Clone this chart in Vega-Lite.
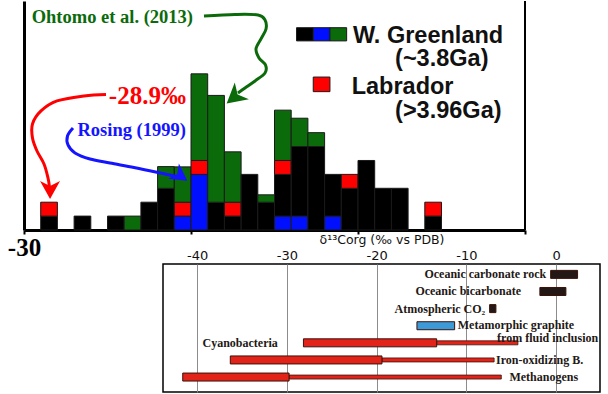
{
  "$schema": "https://vega.github.io/schema/vega-lite/v6.json",
  "padding": {"left": 7, "top": 0, "right": 0, "bottom": 0},
  "bounds": "flush",
  "spacing": 34,
  "config": {"view": {"stroke": null}, "background": "white"},
  "resolve": {"scale": {"color": "independent"}},
  "datasets": {
    "one": [{}],
    "hist": [
      {"lo": -29.5, "hi": -29.0, "grp": "W. Greenland", "n": 1},
      {"lo": -29.5, "hi": -29.0, "grp": "Labrador", "n": 1},
      {"lo": -28.5, "hi": -28.0, "grp": "W. Greenland", "n": 1},
      {"lo": -27.5, "hi": -27.0, "grp": "W. Greenland", "n": 1},
      {"lo": -27.0, "hi": -26.5, "grp": "Ohtomo et al. (2013)", "n": 1},
      {"lo": -26.5, "hi": -26.0, "grp": "W. Greenland", "n": 2},
      {"lo": -26.0, "hi": -25.5, "grp": "W. Greenland", "n": 3},
      {"lo": -26.0, "hi": -25.5, "grp": "Ohtomo et al. (2013)", "n": 1.56},
      {"lo": -25.5, "hi": -25.0, "grp": "Rosing (1999)", "n": 1},
      {"lo": -25.5, "hi": -25.0, "grp": "Labrador", "n": 1},
      {"lo": -25.5, "hi": -25.0, "grp": "Ohtomo et al. (2013)", "n": 2.54},
      {"lo": -25.0, "hi": -24.5, "grp": "Rosing (1999)", "n": 4},
      {"lo": -25.0, "hi": -24.5, "grp": "Labrador", "n": 1},
      {"lo": -25.0, "hi": -24.5, "grp": "Ohtomo et al. (2013)", "n": 6.23},
      {"lo": -24.5, "hi": -24.0, "grp": "W. Greenland", "n": 2},
      {"lo": -24.5, "hi": -24.0, "grp": "Ohtomo et al. (2013)", "n": 7.68},
      {"lo": -24.0, "hi": -23.5, "grp": "W. Greenland", "n": 1},
      {"lo": -24.0, "hi": -23.5, "grp": "Labrador", "n": 1},
      {"lo": -24.0, "hi": -23.5, "grp": "Ohtomo et al. (2013)", "n": 3.62},
      {"lo": -23.5, "hi": -23.0, "grp": "W. Greenland", "n": 4},
      {"lo": -23.0, "hi": -22.5, "grp": "W. Greenland", "n": 2},
      {"lo": -23.0, "hi": -22.5, "grp": "Ohtomo et al. (2013)", "n": 0.53},
      {"lo": -22.5, "hi": -22.0, "grp": "Rosing (1999)", "n": 1},
      {"lo": -22.5, "hi": -22.0, "grp": "W. Greenland", "n": 3},
      {"lo": -22.5, "hi": -22.0, "grp": "Labrador", "n": 1},
      {"lo": -22.5, "hi": -22.0, "grp": "Ohtomo et al. (2013)", "n": 3.62},
      {"lo": -22.0, "hi": -21.5, "grp": "Rosing (1999)", "n": 1},
      {"lo": -22.0, "hi": -21.5, "grp": "W. Greenland", "n": 5},
      {"lo": -22.0, "hi": -21.5, "grp": "Ohtomo et al. (2013)", "n": 2.04},
      {"lo": -21.5, "hi": -21.0, "grp": "W. Greenland", "n": 6},
      {"lo": -21.5, "hi": -21.0, "grp": "Ohtomo et al. (2013)", "n": 1},
      {"lo": -21.0, "hi": -20.5, "grp": "Rosing (1999)", "n": 1},
      {"lo": -21.0, "hi": -20.5, "grp": "W. Greenland", "n": 3},
      {"lo": -20.5, "hi": -20.0, "grp": "W. Greenland", "n": 3},
      {"lo": -20.5, "hi": -20.0, "grp": "Labrador", "n": 1},
      {"lo": -20.0, "hi": -19.5, "grp": "W. Greenland", "n": 5},
      {"lo": -19.5, "hi": -19.0, "grp": "W. Greenland", "n": 3},
      {"lo": -19.0, "hi": -18.5, "grp": "W. Greenland", "n": 3},
      {"lo": -18.0, "hi": -17.5, "grp": "W. Greenland", "n": 1},
      {"lo": -18.0, "hi": -17.5, "grp": "Labrador", "n": 1}
    ],
    "redArrow": [
      {"i": 0, "v": -27.545, "c": 9.748}, {"i": 1, "v": -28.204, "c": 9.64},
      {"i": 2, "v": -29.012, "c": 9.281}, {"i": 3, "v": -29.491, "c": 8.561},
      {"i": 4, "v": -29.746, "c": 7.626}, {"i": 5, "v": -29.746, "c": 6.619},
      {"i": 6, "v": -29.611, "c": 5.683}, {"i": 7, "v": -29.401, "c": 4.748},
      {"i": 8, "v": -29.281, "c": 3.741}, {"i": 9, "v": -29.237, "c": 3.094}
    ],
    "blueArrow": [
      {"i": 0, "v": -28.533, "c": 7.338}, {"i": 1, "v": -28.698, "c": 6.763},
      {"i": 2, "v": -28.683, "c": 6.115}, {"i": 3, "v": -28.473, "c": 5.54},
      {"i": 4, "v": -28.024, "c": 5.108}, {"i": 5, "v": -27.425, "c": 4.82},
      {"i": 6, "v": -26.707, "c": 4.496}, {"i": 7, "v": -25.988, "c": 4.137},
      {"i": 8, "v": -25.449, "c": 3.849}
    ],
    "greenArrow": [
      {"i": 0, "v": -24.611, "c": 15.396}, {"i": 1, "v": -23.683, "c": 15.504},
      {"i": 2, "v": -22.994, "c": 15.468}, {"i": 3, "v": -22.784, "c": 15.108},
      {"i": 4, "v": -22.754, "c": 14.46}, {"i": 5, "v": -22.904, "c": 13.741},
      {"i": 6, "v": -23.054, "c": 13.022}, {"i": 7, "v": -22.964, "c": 12.374},
      {"i": 8, "v": -22.769, "c": 11.871}, {"i": 9, "v": -22.784, "c": 11.295},
      {"i": 10, "v": -23.084, "c": 10.719}, {"i": 11, "v": -23.383, "c": 10.216},
      {"i": 12, "v": -23.593, "c": 9.856}
    ],
    "ranges": [
      {"name": "Oceanic carbonate rock", "kind": "inorganic", "lo": -0.6, "hi": 2.4},
      {"name": "Oceanic bicarbonate", "kind": "inorganic", "lo": -1.8, "hi": 1.1},
      {"name": "Atmospheric CO₂", "kind": "inorganic", "lo": -7.4, "hi": -6.7},
      {"name": "Metamorphic graphite", "kind": "graphite", "lo": -15.5, "hi": -11.3},
      {"name": "Cyanobacteria", "kind": "biological", "lo": -28.15, "hi": -13.3, "thin": -4.25},
      {"name": "Iron-oxidizing B.", "kind": "biological", "lo": -36.3, "hi": -19.4, "thin": -6.9},
      {"name": "Methanogens", "kind": "biological", "lo": -41.6, "hi": -29.75, "thin": -6.1}
    ]
  },
  "vconcat": [
    {
      "width": 501,
      "height": 229,
      "layer": [
        {
          "data": {"name": "hist"},
          "transform": [{"stack": "n", "groupby": ["lo"], "as": ["y0", "y1"]}],
          "mark": {"type": "rect", "stroke": "#1a1a1a", "strokeWidth": 1},
          "encoding": {
            "x": {
              "field": "lo", "type": "quantitative",
              "scale": {"domain": [-30, -15], "nice": false, "zero": false},
              "axis": {
                "values": [-30, -25, -20, -15],
                "labelExpr": "datum.value == -30 ? '-30' : ''",
                "title": null, "grid": false,
                "domainWidth": 3, "domainColor": "#000",
                "tickColor": "#000", "tickWidth": 2, "tickSize": 4,
                "labelFont": "Liberation Serif", "labelFontWeight": "bold",
                "labelFontSize": 25, "labelColor": "#000",
                "labelPadding": 1, "labelFlush": false, "labelDx": 4, "labelOverlap": false
              }
            },
            "x2": {"field": "hi"},
            "y": {
              "field": "y0", "type": "quantitative",
              "scale": {"domain": [0, 16.47], "nice": false},
              "axis": {"title": null, "labels": false, "ticks": false, "grid": false, "domainWidth": 3, "domainColor": "#000"}
            },
            "y2": {"field": "y1"},
            "color": {
              "field": "grp", "type": "nominal", "legend": null,
              "scale": {
                "domain": ["Rosing (1999)", "W. Greenland", "Labrador", "Ohtomo et al. (2013)"],
                "range": ["#0010ff", "#000000", "#ff0000", "#0b6b0b"]
              }
            }
          }
        },
        {"data": {"name": "one"}, "mark": {"type": "rule", "strokeWidth": 2, "color": "#000"}, "encoding": {"x": {"datum": -15}}},
        {"data": {"name": "one"}, "mark": {"type": "rect", "fill": "#000000", "stroke": "#1a1a1a", "strokeWidth": 1},
         "encoding": {"x": {"datum": -21.84}, "x2": {"datum": -21.34}, "y": {"datum": 13.6}, "y2": {"datum": 14.55}}},
        {"data": {"name": "one"}, "mark": {"type": "rect", "fill": "#0010ff", "stroke": "#1a1a1a", "strokeWidth": 1},
         "encoding": {"x": {"datum": -21.34}, "x2": {"datum": -20.84}, "y": {"datum": 13.6}, "y2": {"datum": 14.55}}},
        {"data": {"name": "one"}, "mark": {"type": "rect", "fill": "#0b6b0b", "stroke": "#1a1a1a", "strokeWidth": 1},
         "encoding": {"x": {"datum": -20.84}, "x2": {"datum": -20.34}, "y": {"datum": 13.6}, "y2": {"datum": 14.55}}},
        {"data": {"name": "one"}, "mark": {"type": "rect", "fill": "#ff0000", "stroke": "#1a1a1a", "strokeWidth": 1},
         "encoding": {"x": {"datum": -21.34}, "x2": {"datum": -20.84}, "y": {"datum": 9.95}, "y2": {"datum": 11.0}}},
        {"data": {"name": "one"}, "mark": {"type": "text", "text": "W. Greenland", "align": "left", "baseline": "alphabetic", "font": "Liberation Sans", "fontWeight": "bold", "fontSize": 23.5, "color": "#111"},
         "encoding": {"x": {"datum": -20.15}, "y": {"datum": 13.47}}},
        {"data": {"name": "one"}, "mark": {"type": "text", "text": "(~3.8Ga)", "align": "left", "baseline": "alphabetic", "font": "Liberation Sans", "fontWeight": "bold", "fontSize": 23.5, "color": "#111"},
         "encoding": {"x": {"datum": -18.89}, "y": {"datum": 11.8}}},
        {"data": {"name": "one"}, "mark": {"type": "text", "text": "Labrador", "align": "left", "baseline": "alphabetic", "font": "Liberation Sans", "fontWeight": "bold", "fontSize": 23.5, "color": "#111"},
         "encoding": {"x": {"datum": -20.19}, "y": {"datum": 9.76}}},
        {"data": {"name": "one"}, "mark": {"type": "text", "text": "(>3.96Ga)", "align": "left", "baseline": "alphabetic", "font": "Liberation Sans", "fontWeight": "bold", "fontSize": 23.5, "color": "#111"},
         "encoding": {"x": {"datum": -18.89}, "y": {"datum": 8.08}}},
        {"data": {"name": "one"}, "mark": {"type": "text", "text": "Ohtomo et al. (2013)", "align": "left", "baseline": "alphabetic", "font": "Liberation Serif", "fontWeight": "bold", "fontSize": 18.5, "color": "#0b6b0b"},
         "encoding": {"x": {"datum": -29.77}, "y": {"datum": 14.86}}},
        {"data": {"name": "one"}, "mark": {"type": "text", "text": "-28.9‰", "align": "left", "baseline": "alphabetic", "font": "Liberation Serif", "fontWeight": "bold", "fontSize": 25, "color": "#ff0000"},
         "encoding": {"x": {"datum": -27.46}, "y": {"datum": 9.04}}},
        {"data": {"name": "one"}, "mark": {"type": "text", "text": "Rosing (1999)", "align": "left", "baseline": "alphabetic", "font": "Liberation Serif", "fontWeight": "bold", "fontSize": 18.5, "color": "#1414ff"},
         "encoding": {"x": {"datum": -28.4}, "y": {"datum": 6.76}}},
        {"data": {"name": "redArrow"},
         "mark": {"type": "line", "interpolate": "cardinal", "color": "#ff0000", "strokeWidth": 3},
         "encoding": {"x": {"field": "v", "type": "quantitative"}, "y": {"field": "c", "type": "quantitative"}, "order": {"field": "i"}}},
        {"data": {"name": "blueArrow"},
         "mark": {"type": "line", "interpolate": "cardinal", "color": "#1414ff", "strokeWidth": 3},
         "encoding": {"x": {"field": "v", "type": "quantitative"}, "y": {"field": "c", "type": "quantitative"}, "order": {"field": "i"}}},
        {"data": {"name": "greenArrow"},
         "mark": {"type": "line", "interpolate": "cardinal", "color": "#0b6b0b", "strokeWidth": 3},
         "encoding": {"x": {"field": "v", "type": "quantitative"}, "y": {"field": "c", "type": "quantitative"}, "order": {"field": "i"}}},
        {"data": {"name": "one"}, "mark": {"type": "point", "shape": "M0,-1L1,0.8L0,0.3L-1,0.8Z", "filled": true, "color": "#ff0000", "opacity": 1, "size": 400, "angle": 180, "strokeWidth": 0},
         "encoding": {"x": {"datum": -29.22}, "y": {"datum": 2.95}}},
        {"data": {"name": "one"}, "mark": {"type": "point", "shape": "M0,-1L1,0.8L0,0.3L-1,0.8Z", "filled": true, "color": "#0b6b0b", "opacity": 1, "size": 484, "angle": 230, "strokeWidth": 0},
         "encoding": {"x": {"datum": -23.68}, "y": {"datum": 9.6}}},
        {"data": {"name": "one"}, "mark": {"type": "point", "shape": "M0,-1L1,0.8L0,0.3L-1,0.8Z", "filled": true, "color": "#1414ff", "opacity": 1, "size": 350, "angle": 125, "strokeWidth": 0},
         "encoding": {"x": {"datum": -25.34}, "y": {"datum": 3.92}}}
      ]
    },
    {
      "bounds": "flush",
      "spacing": 0,
      "hconcat": [
        {
          "width": 139, "height": 128,
          "data": {"values": []},
          "mark": {"type": "point", "opacity": 0},
          "encoding": {}
        },
        {
          "width": 437, "height": 128,
          "view": {"stroke": "#000", "strokeWidth": 1.5},
          "layer": [
            {
              "data": {"name": "ranges"},
              "transform": [{"filter": "isValid(datum.thin)"}],
              "mark": {"type": "bar", "size": 4, "fill": "#e2231a", "stroke": "#3a1208", "strokeWidth": 0.8},
              "encoding": {
                "y": {
                  "field": "name", "type": "nominal", "axis": null,
                  "scale": {
                    "type": "point", "padding": 0.74, "align": 0.41,
                    "domain": ["Oceanic carbonate rock", "Oceanic bicarbonate", "Atmospheric CO₂", "Metamorphic graphite", "Cyanobacteria", "Iron-oxidizing B.", "Methanogens"]
                  }
                },
                "x": {
                  "field": "hi", "type": "quantitative",
                  "scale": {"domain": [-43.8, 4.9], "nice": false, "zero": false},
                  "axis": {
                    "orient": "top", "values": [-40, -30, -20, -10, 0],
                    "labelExpr": "'' + datum.value",
                    "grid": true, "gridColor": "#8c8c8c", "gridWidth": 1,
                    "ticks": false, "domain": false,
                    "labelFont": "DejaVu Sans", "labelFontSize": 13, "labelColor": "#111", "labelPadding": 2,
                    "title": "δ¹³Corg (‰ vs PDB)", "titleFont": "DejaVu Sans", "titleFontSize": 12.5,
                    "titleFontWeight": "normal", "titleColor": "#111", "titlePadding": 3
                  }
                },
                "x2": {"field": "thin"}
              }
            },
            {
              "data": {"name": "ranges"},
              "mark": {"type": "bar", "size": 8, "stroke": "#3a1208", "strokeWidth": 1},
              "encoding": {
                "y": {"field": "name", "type": "nominal"},
                "x": {"field": "lo", "type": "quantitative"},
                "x2": {"field": "hi"},
                "color": {
                  "field": "kind", "type": "nominal", "legend": null,
                  "scale": {"domain": ["inorganic", "graphite", "biological"], "range": ["#231815", "#3d9ad9", "#e2231a"]}
                }
              }
            },
            {"data": {"name": "one"}, "mark": {"type": "text", "text": "Oceanic carbonate rock", "align": "right", "baseline": "middle", "font": "Liberation Serif", "fontWeight": "bold", "fontSize": 12, "color": "#231815"},
             "encoding": {"x": {"datum": -1.1}, "y": {"datum": "Oceanic carbonate rock", "type": "nominal"}}},
            {"data": {"name": "one"}, "mark": {"type": "text", "text": "Oceanic bicarbonate", "align": "right", "baseline": "middle", "font": "Liberation Serif", "fontWeight": "bold", "fontSize": 12, "color": "#231815"},
             "encoding": {"x": {"datum": -3.9}, "y": {"datum": "Oceanic bicarbonate", "type": "nominal"}}},
            {"data": {"name": "one"}, "mark": {"type": "text", "text": "Atmospheric CO₂", "align": "right", "baseline": "middle", "font": "Liberation Serif", "fontWeight": "bold", "fontSize": 12, "color": "#231815"},
             "encoding": {"x": {"datum": -7.9}, "y": {"datum": "Atmospheric CO₂", "type": "nominal"}}},
            {"data": {"name": "one"}, "mark": {"type": "text", "text": "Metamorphic graphite", "align": "left", "baseline": "middle", "dy": -1, "font": "Liberation Serif", "fontWeight": "bold", "fontSize": 12, "color": "#231815"},
             "encoding": {"x": {"datum": -10.95}, "y": {"datum": "Metamorphic graphite", "type": "nominal"}}},
            {"data": {"name": "one"}, "mark": {"type": "text", "text": "from fluid inclusion", "align": "right", "baseline": "middle", "dy": 12.5, "font": "Liberation Serif", "fontWeight": "bold", "fontSize": 12, "color": "#231815"},
             "encoding": {"x": {"datum": 4.7}, "y": {"datum": "Metamorphic graphite", "type": "nominal"}}},
            {"data": {"name": "one"}, "mark": {"type": "text", "text": "Cyanobacteria", "align": "right", "baseline": "middle", "font": "Liberation Serif", "fontWeight": "bold", "fontSize": 12, "color": "#231815"},
             "encoding": {"x": {"datum": -31.0}, "y": {"datum": "Cyanobacteria", "type": "nominal"}}},
            {"data": {"name": "one"}, "mark": {"type": "text", "text": "Iron-oxidizing B.", "align": "left", "baseline": "middle", "font": "Liberation Serif", "fontWeight": "bold", "fontSize": 12, "color": "#231815"},
             "encoding": {"x": {"datum": -6.68}, "y": {"datum": "Iron-oxidizing B.", "type": "nominal"}}},
            {"data": {"name": "one"}, "mark": {"type": "text", "text": "Methanogens", "align": "left", "baseline": "middle", "font": "Liberation Serif", "fontWeight": "bold", "fontSize": 12, "color": "#231815"},
             "encoding": {"x": {"datum": -5.19}, "y": {"datum": "Methanogens", "type": "nominal"}}}
          ]
        }
      ]
    }
  ]
}
